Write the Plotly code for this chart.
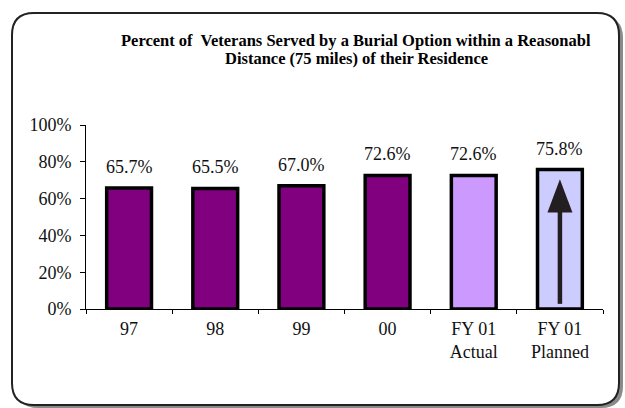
import plotly.graph_objects as go

# Chart data
categories = ["97", "98", "99", "00", "FY 01<br>Actual", "FY 01<br>Planned"]
percent_served = [65.7, 65.5, 67.0, 72.6, 72.6, 75.8]
bar_colors = ["#800080", "#800080", "#800080", "#800080", "#CC99FF", "#CCCCFF"]
y_tick_vals = [0, 20, 40, 60, 80, 100]
y_tick_text = ["0%", "20%", "40%", "60%", "80%", "100%"]

W, H = 625, 408
L, R, T, B = 86, 22, 125, 99
PW, PH = W - L - R, H - T - B
SERIF = "Liberation Serif, Times New Roman, DejaVu Serif, serif"


def px_x(px):
    return (px - L) / PW


def px_y(py):
    return (H - B - py) / PH


def rounded_rect(x0, y0, x1, y1, r):
    """SVG path for a rounded rectangle given in pixel coordinates, mapped to paper units."""
    pts = [
        ("M", [(x0 + r, y0)]),
        ("L", [(x1 - r, y0)]),
        ("Q", [(x1, y0), (x1, y0 + r)]),
        ("L", [(x1, y1 - r)]),
        ("Q", [(x1, y1), (x1 - r, y1)]),
        ("L", [(x0 + r, y1)]),
        ("Q", [(x0, y1), (x0, y1 - r)]),
        ("L", [(x0, y0 + r)]),
        ("Q", [(x0, y0), (x0 + r, y0)]),
    ]
    out = []
    for cmd, coords in pts:
        out.append(cmd + " ".join(f"{px_x(a):.5f},{px_y(b):.5f}" for a, b in coords))
    return " ".join(out) + " Z"


fig = go.Figure()
fig.add_trace(
    go.Bar(
        x=categories,
        y=percent_served,
        width=0.52,
        marker=dict(color=bar_colors, line=dict(color="#000000", width=3.5)),
        hoverinfo="skip",
    )
)

shapes = [
    # drop shadow of the frame
    dict(type="path", xref="paper", yref="paper", layer="below",
         path=rounded_rect(16, 16, 623, 408, 22), fillcolor="#8a8a8a",
         line=dict(width=0)),
    # frame
    dict(type="path", xref="paper", yref="paper", layer="below",
         path=rounded_rect(12, 13, 619, 405, 22), fillcolor="#ffffff",
         line=dict(color="#222222", width=2)),
]

# upward arrow drawn inside the planned bar (x in pixels around the bar centre)
planned = categories[-1]
tip = percent_served[-1] - 5.3
head_base = tip - 18
shapes.append(dict(type="line", xref="x", yref="y", xsizemode="pixel", xanchor=planned,
                   x0=0, x1=0, y0=2.8, y1=head_base + 1,
                   line=dict(color="#231f20", width=4.5)))
shapes.append(dict(type="path", xref="x", yref="y", xsizemode="pixel", xanchor=planned,
                   path=f"M-12.5,{head_base} L12.5,{head_base} L0,{tip} Z",
                   fillcolor="#231f20", line=dict(width=0)))

# value labels above each bar (x given as category position)
annotations = []
for i, val in enumerate(percent_served):
    annotations.append(dict(x=i, y=val, xref="x", yref="y", text=f"{val:.1f}%",
                            showarrow=False, yanchor="bottom", yshift=9,
                            font=dict(family=SERIF, size=18, color="#111111")))

annotations.append(dict(xref="paper", yref="paper", x=px_x(119), y=px_y(40),
                        xanchor="left", yanchor="middle", showarrow=False,
                        text="<b>Percent of\u00a0 Veterans Served by a Burial Option within a Reasonabl</b>",
                        font=dict(family=SERIF, size=16.5, color="#000000")))
annotations.append(dict(xref="paper", yref="paper", x=px_x(356), y=px_y(58),
                        xanchor="center", yanchor="middle", showarrow=False,
                        text="<b>Distance (75 miles) of their Residence</b>",
                        font=dict(family=SERIF, size=16.5, color="#000000")))

fig.update_layout(
    width=W, height=H,
    margin=dict(l=L, r=R, t=T, b=B, pad=0),
    paper_bgcolor="#ffffff",
    plot_bgcolor="rgba(0,0,0,0)",
    showlegend=False,
    bargap=0.48,
    shapes=shapes,
    annotations=annotations,
    xaxis=dict(
        type="category",
        categoryorder="array", categoryarray=categories,
        range=[-0.5, len(categories) - 0.5],
        showline=True, linecolor="#000000", linewidth=1,
        ticks="outside", tickson="boundaries", ticklen=4, tickcolor="#000000",
        showgrid=False, zeroline=False,
        tickfont=dict(family=SERIF, size=18, color="#111111"),
        ticklabelstandoff=3,
    ),
    yaxis=dict(
        range=[0, 100],
        tickvals=y_tick_vals, ticktext=y_tick_text,
        showline=True, linecolor="#000000", linewidth=1,
        ticks="outside", ticklen=5, tickcolor="#000000",
        showgrid=False, zeroline=False,
        tickfont=dict(family=SERIF, size=18, color="#111111"),
        ticklabelstandoff=5,
    ),
)

fig.write_html("out.html")
